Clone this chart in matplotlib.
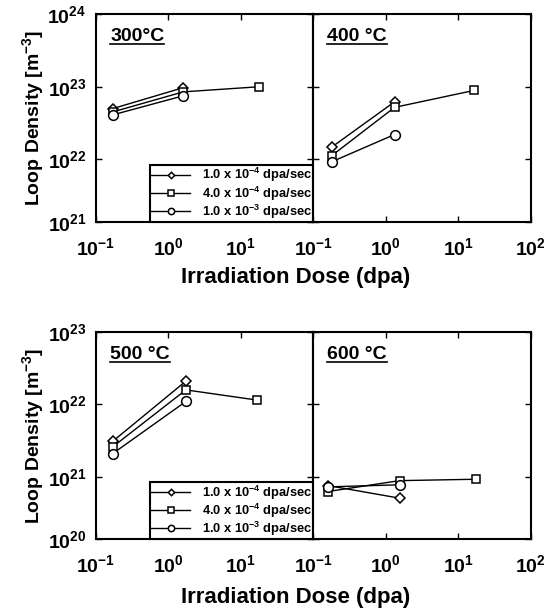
import numpy as np
import matplotlib
matplotlib.use('Agg')
import matplotlib.pyplot as plt
from matplotlib.ticker import FixedLocator, NullLocator

plt.rcParams['font.family'] = ['Liberation Sans', 'DejaVu Sans']
plt.rcParams['font.weight'] = 'bold'
plt.rcParams['axes.labelweight'] = 'bold'
plt.rcParams['mathtext.fontset'] = 'custom'
plt.rcParams['mathtext.rm'] = 'Liberation Sans:weight=bold'
plt.rcParams['mathtext.bf'] = 'Liberation Sans:weight=bold'
plt.rcParams['mathtext.it'] = 'Liberation Sans:weight=bold'
plt.rcParams['mathtext.sf'] = 'Liberation Sans:weight=bold'
plt.rcParams['mathtext.default'] = 'bf'

# dose rates (legend)
rates = ['1.0 x 10$^{-4}$ dpa/sec', '4.0 x 10$^{-4}$ dpa/sec', '1.0 x 10$^{-3}$ dpa/sec']
temps = ['300°C', '400 °C', '500 °C', '600 °C']

# doses (dpa) and loop densities (m^-3)
dose_300 = [0.17, 1.6, 18.0]
r1_300 = [5.0e22, 9.7e22]
r2_300 = [4.5e22, 8.5e22, 1.0e23]
r3_300 = [4.1e22, 7.5e22]

dose_400 = [0.18, 1.32, 16.6]
r1_400 = [1.48e22, 6.2e22]
r2_400 = [1.13e22, 5.2e22, 8.9e22]
r3_400 = [9.3e21, 2.2e22]

dose_500 = [0.17, 1.74, 16.7]
r1_500 = [3.1e21, 2.1e22]
r2_500 = [2.6e21, 1.59e22, 1.15e22]
r3_500 = [2.1e21, 1.1e22]

dose_600 = [0.16, 1.55, 17.6]
r1_600 = [7.6e20, 5.1e20]
r2_600 = [6.3e20, 8.9e20, 9.3e20]
r3_600 = [7.3e20, 7.8e20]

xticks = [0.1, 1, 10, 100]
xlabels = [r'$\mathbf{10^{-1}}$', r'$\mathbf{10^{0}}$', r'$\mathbf{10^{1}}$', r'$\mathbf{10^{2}}$']

fig = plt.figure(figsize=(5.52, 6.15), dpi=100)
W, H = 552, 615

def make_ax(x0, x1, y0, y1):
    return fig.add_axes([x0 / W, 1 - y1 / H, (x1 - x0) / W, (y1 - y0) / H])

axes = [make_ax(96, 313.3, 14, 222), make_ax(313.3, 530.7, 14, 222),
        make_ax(96, 313.3, 332, 539.3), make_ax(313.3, 530.7, 332, 539.3)]

data = [(dose_300, r1_300, r2_300, r3_300),
        (dose_400, r1_400, r2_400, r3_400),
        (dose_500, r1_500, r2_500, r3_500),
        (dose_600, r1_600, r2_600, r3_600)]

markers = ['D', 's', 'o']
msizes = [5.0, 6.0, 7]

for i, ax in enumerate(axes):
    dose, r1, r2, r3 = data[i]
    for j, r in enumerate([r1, r2, r3]):
        ax.plot(dose[:len(r)], r, color='k', lw=1, marker=markers[j],
                ms=msizes[j], mfc='white', mec='k', mew=1.1, label=rates[j])
    ax.set_xscale('log')
    ax.set_yscale('log')
    ax.set_xlim(0.1, 100)
    top = 24 if i < 2 else 23
    lo = 10 ** (top - 3 + 0.14)
    ax.set_ylim(lo, 10.0 ** top)
    yt = [lo, 10.0 ** (top - 2), 10.0 ** (top - 1), 10.0 ** top]
    ax.yaxis.set_major_locator(FixedLocator(yt))
    ax.yaxis.set_minor_locator(NullLocator())
    ax.xaxis.set_minor_locator(NullLocator())
    ax.xaxis.set_major_locator(FixedLocator(xticks))
    if i % 2 == 0:
        ax.set_yticklabels([r'$\mathbf{10^{%d}}$' % (top - k) for k in [3, 2, 1, 0]])
        ax.set_xticklabels(xlabels[:3] + [''])
        ax.set_ylabel(r'Loop Density [m$\mathbf{^{-3}}$]', fontsize=14, labelpad=1)
        leg = ax.legend(loc='lower right', borderaxespad=0, fancybox=False,
                        edgecolor='k', framealpha=1, fontsize=9.3,
                        handlelength=3.0, handletextpad=0.9, labelspacing=0.0,
                        borderpad=0.1, markerscale=0.65)
        leg.get_frame().set_linewidth(1.5)
    else:
        ax.set_yticklabels([])
        ax.set_xticklabels(xlabels)
    ax.tick_params(which='both', direction='in', top=True, right=True,
                   length=4, width=1, labelsize=14, pad=7)
    ax.tick_params(axis='x', pad=11)
    for s in ax.spines.values():
        s.set_linewidth(1.5)
    t = ax.text(0.065, 0.87, temps[i], transform=ax.transAxes, fontsize=14,
                fontweight='bold', ha='left', va='baseline')
    ax._temp_text = t

fig.text(296 / W, 1 - 277 / H, 'Irradiation Dose (dpa)', fontsize=16,
         ha='center', va='center')
fig.text(296 / W, 1 - 598 / H, 'Irradiation Dose (dpa)', fontsize=16,
         ha='center', va='center')

# underline the temperature labels
fig.canvas.draw()
r = fig.canvas.get_renderer()
for ax in axes:
    bb = ax._temp_text.get_window_extent(renderer=r)
    inv = ax.transAxes.inverted()
    (x0, y0), (x1, y1) = inv.transform([(bb.x0, bb.y0), (bb.x1, bb.y0)])
    ax.plot([x0, x1], [0.855, 0.855], transform=ax.transAxes, color='k',
            lw=1.2, clip_on=False)

fig.savefig('out.png', dpi=100)
